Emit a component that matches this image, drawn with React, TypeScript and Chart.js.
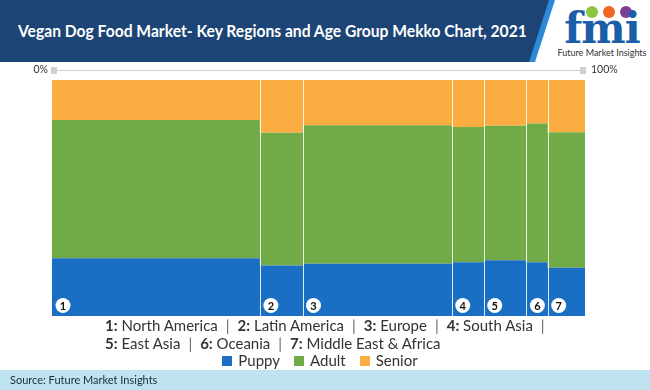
import React, { useEffect, useRef } from "react";
import { Chart, registerables } from "chart.js";

Chart.register(...registerables);

const regionNames = ["North America", "Latin America", "Europe", "South Asia", "East Asia", "Oceania", "Middle East & Africa"];
const regionShare = [39, 8, 28, 6, 8, 4, 7];
const seriesNames = ["Puppy", "Adult", "Senior"];
const puppy = [24.5, 21.4, 22.1, 22.8, 23.6, 22.8, 20.4];
const adult = [58.5, 56.3, 58.7, 57.3, 57.0, 58.8, 57.5];
const senior = [17.0, 22.3, 19.2, 19.9, 19.4, 18.4, 22.1];
const seriesColors = ["#1a6ec3", "#71ab48", "#fbad42"];
const axisLabels = ["0%", "100%"];

const FONT = "Lato, 'Open Sans', sans-serif";

function buildStarts(): number[] {
  const s: number[] = [];
  let acc = 0;
  for (const w of regionShare) {
    s.push(acc);
    acc += w;
  }
  return s;
}

function buildLine(tops: number[]) {
  const starts = buildStarts();
  const pts: { x: number; y: number }[] = [];
  tops.forEach((t, i) => {
    pts.push({ x: starts[i], y: t });
    pts.push({ x: starts[i] + regionShare[i], y: t });
  });
  return pts;
}

const mekkoPlugin = {
  id: "mekkoDecor",
  afterDatasetsDraw(chart: any) {
    const { ctx, chartArea, scales } = chart;
    const xs = scales.x;
    const starts = buildStarts();
    ctx.save();
    // separators
    ctx.strokeStyle = "rgba(255,255,255,0.85)";
    ctx.lineWidth = 1;
    for (let i = 1; i < starts.length; i++) {
      const px = Math.round(xs.getPixelForValue(starts[i])) + 0.5;
      ctx.beginPath();
      ctx.moveTo(px, chartArea.top);
      ctx.lineTo(px, chartArea.bottom);
      ctx.stroke();
    }
    // number circles
    starts.forEach((s, i) => {
      const cx = xs.getPixelForValue(s) + 11;
      const cy = chartArea.bottom - 10.5;
      ctx.beginPath();
      ctx.arc(cx, cy, 7.5, 0, Math.PI * 2);
      ctx.fillStyle = "#ffffff";
      ctx.fill();
      ctx.fillStyle = "#111111";
      ctx.font = `bold 11px ${FONT}`;
      ctx.textAlign = "center";
      ctx.textBaseline = "middle";
      ctx.fillText(String(i + 1), cx, cy + 0.5);
    });
    // top percentage axis
    const y0 = chartArea.top - 10;
    const xa = xs.getPixelForValue(0);
    const xb = xs.getPixelForValue(100);
    ctx.strokeStyle = "#cfcfcf";
    ctx.beginPath();
    ctx.moveTo(xa, y0 + 0.5);
    ctx.lineTo(xb, y0 + 0.5);
    ctx.stroke();
    ctx.fillStyle = "#d0d0d0";
    ctx.fillRect(xa - 1, y0 - 3, 6, 7);
    ctx.fillRect(xb - 5, y0 - 3, 6, 7);
    ctx.fillStyle = "#333333";
    ctx.font = `10.5px ${FONT}`;
    ctx.textBaseline = "middle";
    ctx.textAlign = "right";
    ctx.fillText(axisLabels[0], xa - 4, y0);
    ctx.textAlign = "left";
    ctx.fillText(axisLabels[1], xb + 6, y0);
    ctx.restore();
  },
};

function MekkoChart() {
  const ref = useRef<HTMLCanvasElement | null>(null);
  useEffect(() => {
    if (!ref.current) return;
    const p = puppy;
    const a = puppy.map((v, i) => v + adult[i]);
    const s = puppy.map((v, i) => v + adult[i] + senior[i]);
    const tops = [p, a, s];
    const chart = new Chart(ref.current, {
      type: "line",
      data: {
        datasets: seriesNames.map((name, k) => ({
          label: name,
          data: buildLine(tops[k]),
          borderWidth: 0,
          borderColor: seriesColors[k],
          backgroundColor: seriesColors[k],
          pointRadius: 0,
          tension: 0,
          fill: k === 0 ? "origin" : "-1",
        })),
      },
      options: {
        animation: false,
        responsive: false,
        devicePixelRatio: 1,
        layout: { padding: { top: 18, bottom: 2, left: 52, right: 65 } },
        plugins: { legend: { display: false }, tooltip: { enabled: false } },
        scales: {
          x: { type: "linear", min: 0, max: 100, display: false },
          y: { type: "linear", min: 0, max: 100, display: false },
        },
      },
      plugins: [mekkoPlugin],
    } as any);
    return () => chart.destroy();
  }, []);
  return <canvas ref={ref} width={650} height={256} style={{ position: "absolute", left: 0, top: 62, width: 650, height: 256 }} />;
}

function KeyItem({ i, last }: { i: number; last: boolean }) {
  return (
    <span>
      <b>{i + 1}:</b> {regionNames[i]}
      {!last && <span style={{ color: "#666", margin: "0 8px" }}>|</span>}
    </span>
  );
}

export default function App() {
  const line1 = [0, 1, 2, 3];
  const line2 = [4, 5, 6];
  return (
    <div style={{ position: "fixed", left: 0, top: 0, width: 650, height: 390, background: "#fff", overflow: "hidden", fontFamily: FONT }}>
      {/* header */}
      <div style={{ position: "absolute", left: 0, top: 0, width: 650, height: 62, background: "#2b8ad8", clipPath: "polygon(0 0, 555px 0, 535px 62px, 0 62px)" }} />
      <div style={{ position: "absolute", left: 0, top: 0, width: 650, height: 62, background: "#1c4475", clipPath: "polygon(0 0, 549px 0, 529px 62px, 0 62px)" }} />
      <div style={{ position: "absolute", left: 18, top: 19, color: "#fff", fontWeight: 700, fontSize: 17, whiteSpace: "nowrap", lineHeight: "24px", transform: "scaleX(0.92)", transformOrigin: "left center" }}>
        Vegan Dog Food Market- Key Regions and Age Group Mekko Chart, 2021
      </div>
      {/* logo */}
      <div style={{ position: "absolute", left: 586, top: 6, width: 12, height: 12, borderRadius: 6, background: "#8cc63f" }} />
      <div style={{ position: "absolute", left: 603, top: 6, width: 12, height: 12, borderRadius: 6, background: "#f26522" }} />
      <div style={{ position: "absolute", left: 620, top: 6, width: 12, height: 12, borderRadius: 6, background: "#7b3f98" }} />
      <div style={{ position: "absolute", left: 558, top: 4, width: 88, textAlign: "center", color: "#1a5ea8", fontFamily: "'DejaVu Serif', serif", fontWeight: 700, fontSize: 42, lineHeight: "50px", letterSpacing: -1 }}>
        fmi
      </div>
      <div style={{ position: "absolute", left: 556, top: 47, width: 92, textAlign: "center", color: "#333", fontSize: 9, whiteSpace: "nowrap" }}>
        Future Market Insights
      </div>

      <MekkoChart />

      {/* region key */}
      <div style={{ position: "absolute", left: 105, top: 316, fontSize: 15, lineHeight: "18px", color: "#333", whiteSpace: "nowrap" }}>
        {line1.map((i) => (
          <KeyItem key={i} i={i} last={false} />
        ))}
      </div>
      <div style={{ position: "absolute", left: 105, top: 334, fontSize: 15, lineHeight: "18px", color: "#333", whiteSpace: "nowrap" }}>
        {line2.map((i, j) => (
          <KeyItem key={i} i={i} last={j === line2.length - 1} />
        ))}
      </div>
      {/* legend */}
      <div style={{ position: "absolute", left: 0, width: 640, top: 351, textAlign: "center", fontSize: 15, lineHeight: "18px", color: "#333", whiteSpace: "nowrap" }}>
        {seriesNames.map((n, k) => (
          <span key={n} style={{ marginLeft: k === 0 ? 0 : 14 }}>
            <span style={{ display: "inline-block", width: 10, height: 10, background: seriesColors[k], marginRight: 6 }} />
            {n}
          </span>
        ))}
      </div>
      {/* footer */}
      <div style={{ position: "absolute", left: 0, top: 370, width: 650, height: 20, background: "#bfe3f0" }} />
      <div style={{ position: "absolute", left: 10, top: 373, fontSize: 11, lineHeight: "14px", color: "#1a2a3a" }}>Source: Future Market Insights</div>
    </div>
  );
}
